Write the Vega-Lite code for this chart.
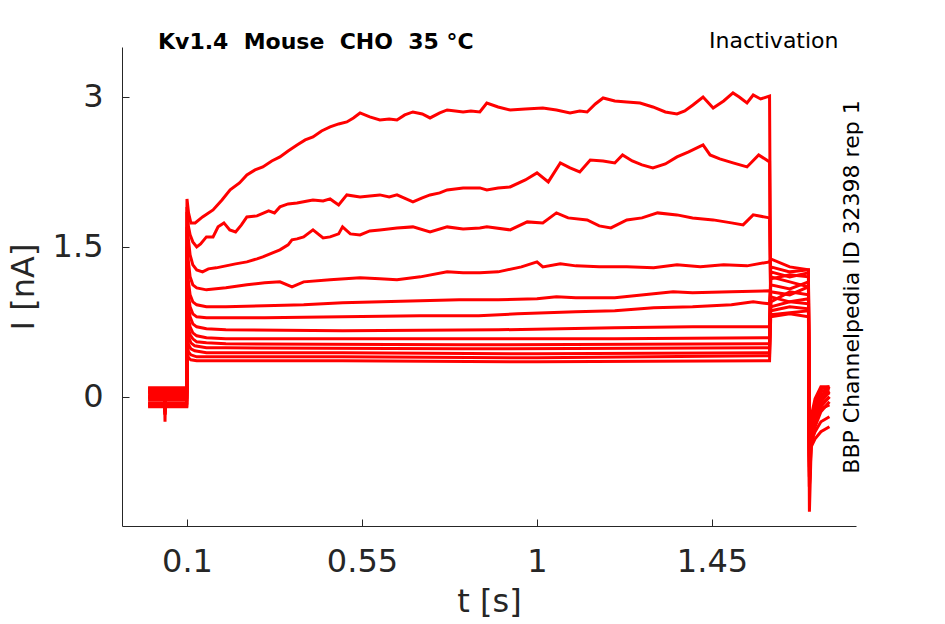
{
  "$schema": "https://vega.github.io/schema/vega-lite/v6.json",
  "width": 734,
  "height": 479,
  "autosize": "none",
  "padding": {"left": 122, "top": 47, "right": 89, "bottom": 98},
  "background": "white",
  "config": {"view": {"stroke": null}, "font": "DejaVu Sans"},
  "title": {
    "text": "Kv1.4\u00a0 Mouse\u00a0 CHO\u00a0 35 °C",
    "anchor": "start",
    "frame": "group",
    "dx": 36,
    "offset": -42,
    "baseline": "alphabetic",
    "font": "DejaVu Sans",
    "fontSize": 22,
    "fontWeight": "bold",
    "color": "black"
  },
  "datasets": {
    "traces": [
      {"s":1,"t":0,"i":0.08},{"s":1,"t":0.042,"i":0.08},{"s":1,"t":0.0435,"i":-0.25},{"s":1,"t":0.045,"i":0.08},{"s":1,"t":0.0995,"i":0.08},
      {"s":1,"t":0.1,"i":1.98},{"s":1,"t":0.104,"i":1.84},{"s":1,"t":0.11,"i":1.74},{"s":1,"t":0.121,"i":1.74},{"s":1,"t":0.14,"i":1.8},{"s":1,"t":0.167,"i":1.87},{"s":1,"t":0.19,"i":1.97},{"s":1,"t":0.211,"i":2.07},{"s":1,"t":0.235,"i":2.14},{"s":1,"t":0.254,"i":2.22},{"s":1,"t":0.275,"i":2.27},{"s":1,"t":0.295,"i":2.3},{"s":1,"t":0.318,"i":2.36},{"s":1,"t":0.339,"i":2.4},{"s":1,"t":0.36,"i":2.46},{"s":1,"t":0.383,"i":2.52},{"s":1,"t":0.404,"i":2.57},{"s":1,"t":0.424,"i":2.6},{"s":1,"t":0.446,"i":2.66},{"s":1,"t":0.468,"i":2.7},{"s":1,"t":0.49,"i":2.73},{"s":1,"t":0.511,"i":2.75},{"s":1,"t":0.528,"i":2.79},{"s":1,"t":0.545,"i":2.84},{"s":1,"t":0.57,"i":2.8},{"s":1,"t":0.596,"i":2.77},{"s":1,"t":0.62,"i":2.78},{"s":1,"t":0.64,"i":2.77},{"s":1,"t":0.66,"i":2.82},{"s":1,"t":0.681,"i":2.85},{"s":1,"t":0.705,"i":2.83},{"s":1,"t":0.725,"i":2.79},{"s":1,"t":0.75,"i":2.84},{"s":1,"t":0.769,"i":2.87},{"s":1,"t":0.79,"i":2.86},{"s":1,"t":0.81,"i":2.85},{"s":1,"t":0.83,"i":2.86},{"s":1,"t":0.853,"i":2.85},{"s":1,"t":0.871,"i":2.94},{"s":1,"t":0.9,"i":2.9},{"s":1,"t":0.931,"i":2.87},{"s":1,"t":0.97,"i":2.88},{"s":1,"t":1.015,"i":2.89},{"s":1,"t":1.05,"i":2.87},{"s":1,"t":1.085,"i":2.84},{"s":1,"t":1.11,"i":2.86},{"s":1,"t":1.129,"i":2.85},{"s":1,"t":1.15,"i":2.93},{"s":1,"t":1.17,"i":2.99},{"s":1,"t":1.2,"i":2.96},{"s":1,"t":1.231,"i":2.95},{"s":1,"t":1.265,"i":2.94},{"s":1,"t":1.298,"i":2.9},{"s":1,"t":1.33,"i":2.85},{"s":1,"t":1.36,"i":2.83},{"s":1,"t":1.38,"i":2.86},{"s":1,"t":1.401,"i":2.92},{"s":1,"t":1.427,"i":3.0},{"s":1,"t":1.453,"i":2.89},{"s":1,"t":1.48,"i":2.96},{"s":1,"t":1.504,"i":3.04},{"s":1,"t":1.52,"i":3.0},{"s":1,"t":1.54,"i":2.94},{"s":1,"t":1.556,"i":3.02},{"s":1,"t":1.575,"i":2.98},{"s":1,"t":1.598,"i":3.01},
      {"s":1,"t":1.601,"i":0.82},{"s":1,"t":1.65,"i":0.84},{"s":1,"t":1.698,"i":0.86},{"s":1,"t":1.7005,"i":-1.15},{"s":1,"t":1.705,"i":-0.5},{"s":1,"t":1.715,"i":-0.3},{"s":1,"t":1.73,"i":-0.15},{"s":1,"t":1.752,"i":-0.05},

      {"s":2,"t":0,"i":-0.06},{"s":2,"t":0.042,"i":-0.06},{"s":2,"t":0.0435,"i":-0.14},{"s":2,"t":0.045,"i":-0.06},{"s":2,"t":0.0995,"i":-0.06},
      {"s":2,"t":0.1,"i":1.9},{"s":2,"t":0.103,"i":1.72},{"s":2,"t":0.108,"i":1.62},{"s":2,"t":0.115,"i":1.55},{"s":2,"t":0.125,"i":1.5},{"s":2,"t":0.135,"i":1.53},{"s":2,"t":0.15,"i":1.6},{"s":2,"t":0.167,"i":1.6},{"s":2,"t":0.18,"i":1.7},{"s":2,"t":0.195,"i":1.74},{"s":2,"t":0.21,"i":1.67},{"s":2,"t":0.225,"i":1.65},{"s":2,"t":0.24,"i":1.72},{"s":2,"t":0.254,"i":1.8},{"s":2,"t":0.28,"i":1.81},{"s":2,"t":0.31,"i":1.86},{"s":2,"t":0.325,"i":1.84},{"s":2,"t":0.339,"i":1.9},{"s":2,"t":0.36,"i":1.93},{"s":2,"t":0.383,"i":1.94},{"s":2,"t":0.41,"i":1.96},{"s":2,"t":0.424,"i":1.97},{"s":2,"t":0.45,"i":1.96},{"s":2,"t":0.468,"i":1.98},{"s":2,"t":0.49,"i":1.92},{"s":2,"t":0.511,"i":2.02},{"s":2,"t":0.545,"i":2.0},{"s":2,"t":0.57,"i":2.01},{"s":2,"t":0.596,"i":2.02},{"s":2,"t":0.62,"i":2.0},{"s":2,"t":0.64,"i":2.02},{"s":2,"t":0.681,"i":1.95},{"s":2,"t":0.705,"i":1.99},{"s":2,"t":0.725,"i":2.02},{"s":2,"t":0.75,"i":2.04},{"s":2,"t":0.769,"i":2.07},{"s":2,"t":0.81,"i":2.09},{"s":2,"t":0.853,"i":2.09},{"s":2,"t":0.871,"i":2.07},{"s":2,"t":0.9,"i":2.09},{"s":2,"t":0.931,"i":2.1},{"s":2,"t":0.97,"i":2.17},{"s":2,"t":1.0,"i":2.24},{"s":2,"t":1.029,"i":2.15},{"s":2,"t":1.06,"i":2.34},{"s":2,"t":1.085,"i":2.29},{"s":2,"t":1.11,"i":2.25},{"s":2,"t":1.137,"i":2.37},{"s":2,"t":1.17,"i":2.36},{"s":2,"t":1.2,"i":2.34},{"s":2,"t":1.22,"i":2.42},{"s":2,"t":1.245,"i":2.36},{"s":2,"t":1.27,"i":2.32},{"s":2,"t":1.298,"i":2.29},{"s":2,"t":1.33,"i":2.33},{"s":2,"t":1.36,"i":2.4},{"s":2,"t":1.39,"i":2.45},{"s":2,"t":1.427,"i":2.52},{"s":2,"t":1.445,"i":2.42},{"s":2,"t":1.47,"i":2.38},{"s":2,"t":1.504,"i":2.34},{"s":2,"t":1.54,"i":2.3},{"s":2,"t":1.57,"i":2.42},{"s":2,"t":1.598,"i":2.35},
      {"s":2,"t":1.601,"i":0.86},{"s":2,"t":1.65,"i":0.9},{"s":2,"t":1.698,"i":0.88},{"s":2,"t":1.7005,"i":-0.9},{"s":2,"t":1.705,"i":-0.45},{"s":2,"t":1.715,"i":-0.25},{"s":2,"t":1.73,"i":-0.1},{"s":2,"t":1.752,"i":0.0},

      {"s":3,"t":0,"i":0.05},{"s":3,"t":0.042,"i":0.05},{"s":3,"t":0.0435,"i":-0.03},{"s":3,"t":0.045,"i":0.05},{"s":3,"t":0.0995,"i":0.05},
      {"s":3,"t":0.1,"i":1.85},{"s":3,"t":0.103,"i":1.6},{"s":3,"t":0.108,"i":1.42},{"s":3,"t":0.115,"i":1.32},{"s":3,"t":0.125,"i":1.27},{"s":3,"t":0.14,"i":1.25},{"s":3,"t":0.155,"i":1.28},{"s":3,"t":0.175,"i":1.29},{"s":3,"t":0.2,"i":1.31},{"s":3,"t":0.225,"i":1.33},{"s":3,"t":0.254,"i":1.35},{"s":3,"t":0.28,"i":1.38},{"s":3,"t":0.295,"i":1.4},{"s":3,"t":0.32,"i":1.44},{"s":3,"t":0.339,"i":1.47},{"s":3,"t":0.36,"i":1.52},{"s":3,"t":0.37,"i":1.57},{"s":3,"t":0.383,"i":1.58},{"s":3,"t":0.4,"i":1.6},{"s":3,"t":0.424,"i":1.67},{"s":3,"t":0.45,"i":1.59},{"s":3,"t":0.468,"i":1.6},{"s":3,"t":0.49,"i":1.63},{"s":3,"t":0.5,"i":1.7},{"s":3,"t":0.52,"i":1.63},{"s":3,"t":0.545,"i":1.62},{"s":3,"t":0.57,"i":1.66},{"s":3,"t":0.596,"i":1.67},{"s":3,"t":0.64,"i":1.69},{"s":3,"t":0.681,"i":1.7},{"s":3,"t":0.725,"i":1.65},{"s":3,"t":0.769,"i":1.7},{"s":3,"t":0.81,"i":1.68},{"s":3,"t":0.853,"i":1.69},{"s":3,"t":0.871,"i":1.7},{"s":3,"t":0.931,"i":1.67},{"s":3,"t":0.975,"i":1.75},{"s":3,"t":1.015,"i":1.74},{"s":3,"t":1.05,"i":1.84},{"s":3,"t":1.08,"i":1.79},{"s":3,"t":1.129,"i":1.77},{"s":3,"t":1.16,"i":1.71},{"s":3,"t":1.19,"i":1.69},{"s":3,"t":1.231,"i":1.77},{"s":3,"t":1.27,"i":1.79},{"s":3,"t":1.31,"i":1.84},{"s":3,"t":1.36,"i":1.82},{"s":3,"t":1.4,"i":1.79},{"s":3,"t":1.453,"i":1.77},{"s":3,"t":1.5,"i":1.74},{"s":3,"t":1.53,"i":1.72},{"s":3,"t":1.556,"i":1.82},{"s":3,"t":1.598,"i":1.79},
      {"s":3,"t":1.601,"i":0.9},{"s":3,"t":1.65,"i":0.95},{"s":3,"t":1.698,"i":0.98},{"s":3,"t":1.7005,"i":-0.8},{"s":3,"t":1.705,"i":-0.4},{"s":3,"t":1.715,"i":-0.2},{"s":3,"t":1.73,"i":-0.05},{"s":3,"t":1.752,"i":0.05},

      {"s":4,"t":0,"i":-0.09},{"s":4,"t":0.042,"i":-0.09},{"s":4,"t":0.0435,"i":-0.17},{"s":4,"t":0.045,"i":-0.09},{"s":4,"t":0.0995,"i":-0.09},
      {"s":4,"t":0.1,"i":1.7},{"s":4,"t":0.103,"i":1.38},{"s":4,"t":0.108,"i":1.2},{"s":4,"t":0.115,"i":1.12},{"s":4,"t":0.125,"i":1.09},{"s":4,"t":0.15,"i":1.07},{"s":4,"t":0.2,"i":1.09},{"s":4,"t":0.254,"i":1.12},{"s":4,"t":0.3,"i":1.14},{"s":4,"t":0.339,"i":1.15},{"s":4,"t":0.37,"i":1.1},{"s":4,"t":0.4,"i":1.15},{"s":4,"t":0.468,"i":1.17},{"s":4,"t":0.545,"i":1.19},{"s":4,"t":0.596,"i":1.18},{"s":4,"t":0.64,"i":1.17},{"s":4,"t":0.7,"i":1.2},{"s":4,"t":0.769,"i":1.25},{"s":4,"t":0.81,"i":1.24},{"s":4,"t":0.853,"i":1.24},{"s":4,"t":0.9,"i":1.25},{"s":4,"t":0.96,"i":1.3},{"s":4,"t":1.0,"i":1.35},{"s":4,"t":1.015,"i":1.3},{"s":4,"t":1.06,"i":1.33},{"s":4,"t":1.1,"i":1.31},{"s":4,"t":1.16,"i":1.3},{"s":4,"t":1.231,"i":1.3},{"s":4,"t":1.3,"i":1.29},{"s":4,"t":1.36,"i":1.32},{"s":4,"t":1.42,"i":1.3},{"s":4,"t":1.48,"i":1.32},{"s":4,"t":1.54,"i":1.31},{"s":4,"t":1.598,"i":1.35},
      {"s":4,"t":1.601,"i":1.38},{"s":4,"t":1.65,"i":1.3},{"s":4,"t":1.698,"i":1.27},{"s":4,"t":1.7005,"i":-0.7},{"s":4,"t":1.705,"i":-0.35},{"s":4,"t":1.715,"i":-0.15},{"s":4,"t":1.73,"i":0.0},{"s":4,"t":1.752,"i":0.1},

      {"s":5,"t":0,"i":0.02},{"s":5,"t":0.042,"i":0.02},{"s":5,"t":0.0435,"i":-0.06},{"s":5,"t":0.045,"i":0.02},{"s":5,"t":0.0995,"i":0.02},
      {"s":5,"t":0.1,"i":1.5},{"s":5,"t":0.103,"i":1.18},{"s":5,"t":0.108,"i":1.02},{"s":5,"t":0.115,"i":0.95},{"s":5,"t":0.125,"i":0.92},{"s":5,"t":0.15,"i":0.9},{"s":5,"t":0.2,"i":0.9},{"s":5,"t":0.3,"i":0.91},{"s":5,"t":0.4,"i":0.92},{"s":5,"t":0.5,"i":0.94},{"s":5,"t":0.6,"i":0.95},{"s":5,"t":0.7,"i":0.96},{"s":5,"t":0.8,"i":0.97},{"s":5,"t":0.9,"i":0.97},{"s":5,"t":1.0,"i":0.98},{"s":5,"t":1.05,"i":1.0},{"s":5,"t":1.1,"i":0.99},{"s":5,"t":1.2,"i":0.99},{"s":5,"t":1.3,"i":1.03},{"s":5,"t":1.35,"i":1.05},{"s":5,"t":1.4,"i":1.04},{"s":5,"t":1.5,"i":1.05},{"s":5,"t":1.598,"i":1.06},
      {"s":5,"t":1.601,"i":1.05},{"s":5,"t":1.65,"i":1.02},{"s":5,"t":1.698,"i":1.1},{"s":5,"t":1.7005,"i":-0.75},{"s":5,"t":1.705,"i":-0.42},{"s":5,"t":1.715,"i":-0.28},{"s":5,"t":1.73,"i":-0.12},{"s":5,"t":1.752,"i":-0.08},

      {"s":6,"t":0,"i":0.09},{"s":6,"t":0.042,"i":0.09},{"s":6,"t":0.0435,"i":0.01},{"s":6,"t":0.045,"i":0.09},{"s":6,"t":0.0995,"i":0.09},
      {"s":6,"t":0.1,"i":1.3},{"s":6,"t":0.103,"i":1.04},{"s":6,"t":0.108,"i":0.9},{"s":6,"t":0.115,"i":0.83},{"s":6,"t":0.125,"i":0.8},{"s":6,"t":0.15,"i":0.79},{"s":6,"t":0.3,"i":0.79},{"s":6,"t":0.5,"i":0.8},{"s":6,"t":0.7,"i":0.81},{"s":6,"t":0.85,"i":0.81},{"s":6,"t":0.95,"i":0.83},{"s":6,"t":1.1,"i":0.85},{"s":6,"t":1.2,"i":0.86},{"s":6,"t":1.3,"i":0.89},{"s":6,"t":1.4,"i":0.9},{"s":6,"t":1.5,"i":0.92},{"s":6,"t":1.556,"i":0.95},{"s":6,"t":1.598,"i":0.93},
      {"s":6,"t":1.601,"i":1.12},{"s":6,"t":1.65,"i":1.08},{"s":6,"t":1.698,"i":1.15},{"s":6,"t":1.7005,"i":-0.65},{"s":6,"t":1.705,"i":-0.3},{"s":6,"t":1.715,"i":-0.1},{"s":6,"t":1.73,"i":0.05},{"s":6,"t":1.752,"i":0.08},

      {"s":7,"t":0,"i":-0.03},{"s":7,"t":0.042,"i":-0.03},{"s":7,"t":0.0435,"i":-0.11},{"s":7,"t":0.045,"i":-0.03},{"s":7,"t":0.0995,"i":-0.03},
      {"s":7,"t":0.1,"i":1.12},{"s":7,"t":0.103,"i":0.92},{"s":7,"t":0.108,"i":0.8},{"s":7,"t":0.115,"i":0.73},{"s":7,"t":0.125,"i":0.7},{"s":7,"t":0.15,"i":0.68},{"s":7,"t":0.2,"i":0.67},{"s":7,"t":0.5,"i":0.66},{"s":7,"t":0.9,"i":0.67},{"s":7,"t":1.2,"i":0.69},{"s":7,"t":1.4,"i":0.7},{"s":7,"t":1.598,"i":0.7},
      {"s":7,"t":1.601,"i":1.18},{"s":7,"t":1.65,"i":1.22},{"s":7,"t":1.698,"i":1.2},{"s":7,"t":1.7005,"i":-0.6},{"s":7,"t":1.705,"i":-0.25},{"s":7,"t":1.715,"i":-0.05},{"s":7,"t":1.73,"i":0.08},{"s":7,"t":1.752,"i":0.1},

      {"s":8,"t":0,"i":0.06},{"s":8,"t":0.042,"i":0.06},{"s":8,"t":0.0435,"i":-0.02},{"s":8,"t":0.045,"i":0.06},{"s":8,"t":0.0995,"i":0.06},
      {"s":8,"t":0.1,"i":0.98},{"s":8,"t":0.103,"i":0.8},{"s":8,"t":0.108,"i":0.7},{"s":8,"t":0.115,"i":0.64},{"s":8,"t":0.125,"i":0.61},{"s":8,"t":0.15,"i":0.59},{"s":8,"t":0.2,"i":0.58},{"s":8,"t":0.8,"i":0.58},{"s":8,"t":1.2,"i":0.58},{"s":8,"t":1.598,"i":0.59},
      {"s":8,"t":1.601,"i":1.25},{"s":8,"t":1.65,"i":1.2},{"s":8,"t":1.698,"i":1.24},{"s":8,"t":1.7005,"i":-0.7},{"s":8,"t":1.705,"i":-0.38},{"s":8,"t":1.715,"i":-0.22},{"s":8,"t":1.73,"i":-0.02},{"s":8,"t":1.752,"i":0.04},

      {"s":9,"t":0,"i":-0.1},{"s":9,"t":0.042,"i":-0.1},{"s":9,"t":0.0435,"i":-0.18},{"s":9,"t":0.045,"i":-0.1},{"s":9,"t":0.0995,"i":-0.1},
      {"s":9,"t":0.1,"i":0.82},{"s":9,"t":0.103,"i":0.7},{"s":9,"t":0.108,"i":0.62},{"s":9,"t":0.115,"i":0.58},{"s":9,"t":0.125,"i":0.55},{"s":9,"t":0.15,"i":0.54},{"s":9,"t":0.2,"i":0.53},{"s":9,"t":0.8,"i":0.52},{"s":9,"t":1.598,"i":0.53},
      {"s":9,"t":1.601,"i":1.0},{"s":9,"t":1.65,"i":0.95},{"s":9,"t":1.698,"i":0.93},{"s":9,"t":1.7005,"i":-0.8},{"s":9,"t":1.705,"i":-0.45},{"s":9,"t":1.715,"i":-0.35},{"s":9,"t":1.73,"i":-0.25},{"s":9,"t":1.752,"i":-0.2},

      {"s":10,"t":0,"i":0.0},{"s":10,"t":0.042,"i":0.0},{"s":10,"t":0.0435,"i":-0.08},{"s":10,"t":0.045,"i":0.0},{"s":10,"t":0.0995,"i":0.0},
      {"s":10,"t":0.1,"i":0.7},{"s":10,"t":0.104,"i":0.6},{"s":10,"t":0.11,"i":0.54},{"s":10,"t":0.12,"i":0.51},{"s":10,"t":0.15,"i":0.49},{"s":10,"t":0.2,"i":0.49},{"s":10,"t":0.8,"i":0.48},{"s":10,"t":1.598,"i":0.49},
      {"s":10,"t":1.601,"i":0.95},{"s":10,"t":1.65,"i":1.05},{"s":10,"t":1.698,"i":1.02},{"s":10,"t":1.7005,"i":-0.6},{"s":10,"t":1.705,"i":-0.3},{"s":10,"t":1.715,"i":-0.18},{"s":10,"t":1.73,"i":-0.08},{"s":10,"t":1.752,"i":0.0},

      {"s":11,"t":0,"i":0.04},{"s":11,"t":0.042,"i":0.04},{"s":11,"t":0.0435,"i":-0.04},{"s":11,"t":0.045,"i":0.04},{"s":11,"t":0.0995,"i":0.04},
      {"s":11,"t":0.1,"i":0.6},{"s":11,"t":0.104,"i":0.52},{"s":11,"t":0.11,"i":0.48},{"s":11,"t":0.12,"i":0.46},{"s":11,"t":0.15,"i":0.44},{"s":11,"t":0.5,"i":0.44},{"s":11,"t":1.0,"i":0.43},{"s":11,"t":1.598,"i":0.44},
      {"s":11,"t":1.601,"i":1.2},{"s":11,"t":1.65,"i":1.15},{"s":11,"t":1.698,"i":1.1},{"s":11,"t":1.7005,"i":-0.55},{"s":11,"t":1.705,"i":-0.2},{"s":11,"t":1.715,"i":-0.02},{"s":11,"t":1.73,"i":0.1},{"s":11,"t":1.752,"i":0.1},

      {"s":12,"t":0,"i":-0.07},{"s":12,"t":0.042,"i":-0.07},{"s":12,"t":0.0435,"i":-0.15},{"s":12,"t":0.045,"i":-0.07},{"s":12,"t":0.0995,"i":-0.07},
      {"s":12,"t":0.1,"i":0.52},{"s":12,"t":0.104,"i":0.45},{"s":12,"t":0.11,"i":0.42},{"s":12,"t":0.125,"i":0.4},{"s":12,"t":0.5,"i":0.4},{"s":12,"t":1.0,"i":0.39},{"s":12,"t":1.598,"i":0.41},
      {"s":12,"t":1.601,"i":1.3},{"s":12,"t":1.65,"i":1.25},{"s":12,"t":1.698,"i":1.27},{"s":12,"t":1.7005,"i":-0.65},{"s":12,"t":1.705,"i":-0.33},{"s":12,"t":1.715,"i":-0.12},{"s":12,"t":1.73,"i":0.02},{"s":12,"t":1.752,"i":0.06},

      {"s":13,"t":0,"i":-0.01},{"s":13,"t":0.042,"i":-0.01},{"s":13,"t":0.0435,"i":-0.09},{"s":13,"t":0.045,"i":-0.01},{"s":13,"t":0.0995,"i":-0.01},
      {"s":13,"t":0.1,"i":0.45},{"s":13,"t":0.104,"i":0.39},{"s":13,"t":0.11,"i":0.37},{"s":13,"t":0.125,"i":0.36},{"s":13,"t":0.5,"i":0.36},{"s":13,"t":1.0,"i":0.35},{"s":13,"t":1.598,"i":0.36},
      {"s":13,"t":1.601,"i":0.8},{"s":13,"t":1.65,"i":0.83},{"s":13,"t":1.698,"i":0.8},{"s":13,"t":1.7005,"i":-0.9},{"s":13,"t":1.705,"i":-0.5},{"s":13,"t":1.715,"i":-0.42},{"s":13,"t":1.73,"i":-0.35},{"s":13,"t":1.752,"i":-0.3}
    ]
  },
  "data": {"name": "traces"},
  "layer": [
    {
      "mark": {"type": "line", "color": "#ff0000", "strokeWidth": 3, "clip": true},
      "encoding": {
        "x": {
          "field": "t",
          "type": "quantitative",
          "scale": {"domain": [-0.0671, 1.8203], "nice": false, "zero": false},
          "axis": {
            "orient": "bottom",
            "title": "t [s]",
            "values": [0.1, 0.55, 1, 1.45],
            "labelExpr": "'' + datum.value",
            "grid": false,
            "domainColor": "#262626",
            "tickColor": "#262626",
            "tickSize": -7,
            "labelFont": "DejaVu Sans",
            "labelFontSize": 32,
            "labelColor": "#262626",
            "labelPadding": 27,
            "labelFlush": false,
            "titleFont": "DejaVu Sans",
            "titleFontSize": 32,
            "titleFontWeight": "normal",
            "titleColor": "#262626",
            "titlePadding": 9
          }
        },
        "y": {
          "field": "i",
          "type": "quantitative",
          "scale": {"domain": [-1.293, 3.5], "nice": false, "zero": false},
          "axis": {
            "orient": "left",
            "title": "I [nA]",
            "values": [0, 1.5, 3],
            "labelExpr": "'' + datum.value",
            "grid": false,
            "domainColor": "#262626",
            "tickColor": "#262626",
            "tickSize": -7,
            "labelFont": "DejaVu Sans",
            "labelFontSize": 32,
            "labelColor": "#262626",
            "labelPadding": 26,
            "labelFlush": false,
            "titleFont": "DejaVu Sans",
            "titleFontSize": 32,
            "titleFontWeight": "normal",
            "titleColor": "#262626",
            "titlePadding": 12
          }
        },
        "detail": {"field": "s", "type": "nominal"}
      }
    },
    {
      "mark": {"type": "line", "opacity": 0},
      "encoding": {
        "x": {
          "field": "t",
          "type": "quantitative",
          "axis": {
            "orient": "top",
            "title": "Inactivation",
            "domain": false,
            "ticks": false,
            "labels": false,
            "grid": false,
            "titleFont": "DejaVu Sans",
            "titleFontSize": 22,
            "titleFontWeight": "normal",
            "titleColor": "black",
            "titleAlign": "right",
            "titleBaseline": "alphabetic",
            "titleX": 716,
            "titlePadding": 0
          }
        },
        "y": {
          "field": "i",
          "type": "quantitative",
          "axis": {
            "orient": "right",
            "title": "BBP Channelpedia ID 32398 rep 1",
            "domain": false,
            "ticks": false,
            "labels": false,
            "grid": false,
            "titleFont": "DejaVu Sans",
            "titleFontSize": 22,
            "titleFontWeight": "normal",
            "titleColor": "black",
            "titleAngle": 270,
            "titleBaseline": "alphabetic",
            "titleAnchor": "middle",
            "titlePadding": 2
          }
        },
        "detail": {"field": "s", "type": "nominal"}
      }
    }
  ],
  "resolve": {"axis": {"x": "independent", "y": "independent"}}
}
